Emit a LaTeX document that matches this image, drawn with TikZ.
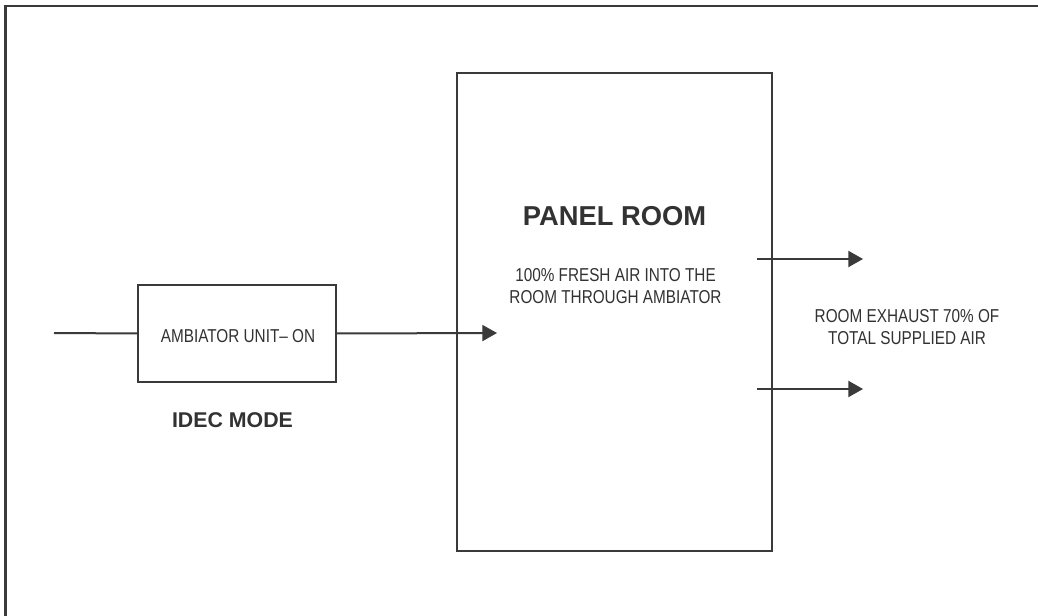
\documentclass[tikz,border=0pt]{standalone}
\usepackage{fontspec}
\setmainfont{Liberation Sans}
\newfontfamily\narrowsans[FakeStretch=0.82]{Liberation Sans}
\usepackage{xcolor}
\usepackage{tikz}
\usetikzlibrary{positioning,arrows.meta}
\definecolor{ductgray}{RGB}{58,58,58}
\definecolor{labelgray}{RGB}{50,50,50}

\begin{document}
\begin{tikzpicture}[x=0.75pt,y=-0.75pt,
  roombox/.style={draw=ductgray,line width=1.6pt,fill=white,inner sep=0pt},
  flow/.style={draw=ductgray,line width=1.5pt,-{Triangle[length=11pt,width=12pt]}},
  duct/.style={draw=ductgray,line width=1.5pt},
  smalltext/.style={text=labelgray,font=\narrowsans\fontsize{14pt}{16.5pt}\selectfont,align=center},
  titletext/.style={text=labelgray,font=\bfseries\fontsize{20.5pt}{24pt}\selectfont}]
  \clip (0,0) rectangle (1038,616);
  \fill[white] (0,0) rectangle (1038,616);
  \draw[ductgray,line width=2.2pt] (5.5,6) rectangle (1070,650);
  % boxes
  \node[roombox,minimum width=236.25pt,minimum height=358.5pt] (room) at (614.5,312) {};
  \node[roombox,minimum width=148.5pt,minimum height=72.75pt] (unit) at (237,333.5) {};
  \node[smalltext] (unitlabel) at (238,336) {AMBIATOR UNIT– ON};
  \node[titletext] (mode) at (232.5,420) {\fontsize{16pt}{19pt}\selectfont IDEC MODE};
  \node[titletext] (roomtitle) at (614.5,216) {PANEL ROOM};
  \node[smalltext] (roomnote) at (615.5,286) {100\% FRESH AIR INTO THE\\ROOM THROUGH AMBIATOR};
  \node[smalltext] (exhaustnote) at (907,327.5) {ROOM EXHAUST 70\% OF\\TOTAL SUPPLIED AIR};
  % supply and exhaust
  \coordinate (intake) at (54,333);
  \coordinate (supply) at (497,333);
  \coordinate (outA) at (757,259);\coordinate (ventA) at (863,259);
  \coordinate (outB) at (757,389);\coordinate (ventB) at (863,389);
  \draw[duct] (intake) -- (unit.west);
  \draw[flow] (unit.east) -- (supply);
  \draw[flow] (outA) -- (ventA);
  \draw[flow] (outB) -- (ventB);
\end{tikzpicture}
\end{document}
